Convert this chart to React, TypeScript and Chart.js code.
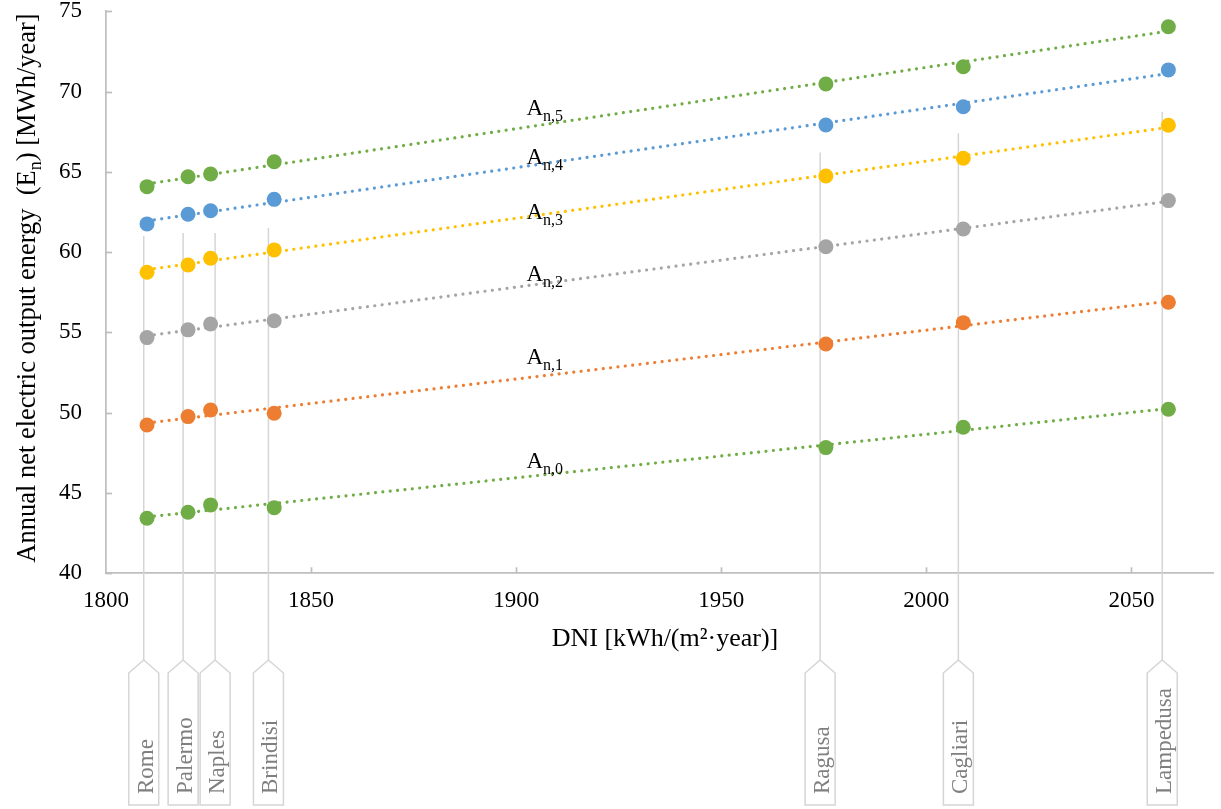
import { useEffect, useRef } from 'react';
import { Chart, registerables } from 'chart.js';

Chart.register(...registerables);

// Sites and their direct normal irradiance [kWh/(m²·year)]
const cities = ['Rome', 'Palermo', 'Naples', 'Brindisi', 'Ragusa', 'Cagliari', 'Lampedusa'];
const dni = [1810, 1820, 1825.5, 1841, 1975.5, 2009, 2059];

// Annual net electric output energy [MWh/year] per configuration
const an0 = [43.43, 43.8, 44.26, 44.09, 47.83, 49.1, 50.22];
const an1 = [49.24, 49.76, 50.17, 49.97, 54.28, 55.61, 56.88];
const an2 = [54.68, 55.16, 55.53, 55.73, 60.34, 61.44, 63.21];
const an3 = [58.75, 59.2, 59.62, 60.14, 64.74, 65.85, 67.9];
const an4 = [61.76, 62.36, 62.58, 63.29, 67.92, 69.06, 71.35];
const an5 = [64.08, 64.7, 64.87, 65.63, 70.47, 71.55, 74.04];

const seriesValues = [an0, an1, an2, an3, an4, an5];
const seriesSubscripts = ['n,0', 'n,1', 'n,2', 'n,3', 'n,4', 'n,5'];
const seriesColors = ['#70AD47', '#ED7D31', '#A5A5A5', '#FFC000', '#5B9BD5', '#70AD47'];

// Where each series name sits (DNI, energy)
const seriesLabelDni = 1902.5;
const seriesLabelValues = [47.02, 53.49, 58.64, 62.55, 65.95, 69.01];

// Site callouts: leader position (DNI) and the energy level where the leader ends
const calloutDni = [1809.2, 1818.8, 1826.6, 1839.6, 1974.1, 2007.8, 2057.5];
const calloutTop = [61.0, 61.2, 61.2, 61.5, 66.2, 67.4, 68.75];

const xMin = 1800;
const xMax = 2070;
const xStep = 50;
const yMin = 40;
const yMax = 75;
const yStep = 5;

const xTitle = 'DNI [kWh/(m²·year)]';
const yTitleParts = [
  { text: 'Annual net electric output energy  (E', sub: false },
  { text: 'n', sub: true },
  { text: ') [MWh/year]', sub: false },
];

const SERIF = '"Liberation Serif", "Times New Roman", serif';
const AXIS_GREY = '#BFBFBF';
const CALLOUT_GREY = '#D5D5D5';

function linearFit(xs: number[], ys: number[]) {
  const n = xs.length;
  const mx = xs.reduce((a, b) => a + b, 0) / n;
  const my = ys.reduce((a, b) => a + b, 0) / n;
  let sxy = 0;
  let sxx = 0;
  for (let i = 0; i < n; i++) {
    sxy += (xs[i] - mx) * (ys[i] - my);
    sxx += (xs[i] - mx) * (xs[i] - mx);
  }
  const b = sxy / sxx;
  const a = my - b * mx;
  return [xs[0], xs[n - 1]].map((x) => ({ x, y: a + b * x }));
}

type Part = { text: string; sub: boolean };

function drawRich(ctx: CanvasRenderingContext2D, parts: Part[], size: number, subSize: number, subDrop: number, centerX: number, baseline: number) {
  const widths = parts.map((p) => {
    ctx.font = `${p.sub ? subSize : size}px ${SERIF}`;
    return ctx.measureText(p.text).width;
  });
  const total = widths.reduce((a, b) => a + b, 0);
  let x = centerX - total / 2;
  ctx.textAlign = 'left';
  ctx.textBaseline = 'alphabetic';
  parts.forEach((p, i) => {
    ctx.font = `${p.sub ? subSize : size}px ${SERIF}`;
    ctx.fillText(p.text, x, baseline + (p.sub ? subDrop : 0));
    x += widths[i];
  });
}

const decorations = {
  id: 'decorations',
  beforeDatasetsDraw(chart: any) {
    const { ctx, scales } = chart;
    const xs = scales.x;
    const ys = scales.y;
    ctx.save();
    ctx.strokeStyle = CALLOUT_GREY;
    ctx.lineWidth = 1.5;
    calloutDni.forEach((d, i) => {
      const px = xs.getPixelForValue(d);
      ctx.beginPath();
      ctx.moveTo(px, ys.getPixelForValue(calloutTop[i]));
      ctx.lineTo(px, 660);
      ctx.stroke();
    });
    ctx.restore();
  },
  afterDraw(chart: any) {
    const { ctx, scales, chartArea } = chart;
    const xs = scales.x;
    const ys = scales.y;
    ctx.save();

    // inward tick marks
    ctx.strokeStyle = AXIS_GREY;
    ctx.lineWidth = 1.75;
    xs.ticks.forEach((t: any) => {
      if (t.value === xMin) return;
      const px = Math.round(xs.getPixelForValue(t.value)) + 0.5;
      ctx.beginPath();
      ctx.moveTo(px, chartArea.bottom);
      ctx.lineTo(px, chartArea.bottom - 6);
      ctx.stroke();
    });
    ys.ticks.forEach((t: any) => {
      const py = Math.round(ys.getPixelForValue(t.value)) + 0.5;
      ctx.beginPath();
      ctx.moveTo(chartArea.left, py);
      ctx.lineTo(chartArea.left + 6, py);
      ctx.stroke();
    });

    // site callouts
    calloutDni.forEach((d, i) => {
      const cx = xs.getPixelForValue(d);
      ctx.strokeStyle = CALLOUT_GREY;
      ctx.lineWidth = 1.5;
      ctx.fillStyle = '#ffffff';
      ctx.beginPath();
      ctx.moveTo(cx, 660);
      ctx.lineTo(cx + 15, 673);
      ctx.lineTo(cx + 15, 805);
      ctx.lineTo(cx - 15, 805);
      ctx.lineTo(cx - 15, 673);
      ctx.closePath();
      ctx.fill();
      ctx.stroke();

      ctx.save();
      ctx.translate(cx, 794);
      ctx.rotate(-Math.PI / 2);
      ctx.font = `23px ${SERIF}`;
      ctx.fillStyle = '#7F7F7F';
      ctx.textAlign = 'left';
      ctx.textBaseline = 'alphabetic';
      ctx.fillText(cities[i], 0, 9);
      ctx.restore();
    });

    // series names A_{n,k}
    ctx.fillStyle = '#000000';
    seriesSubscripts.forEach((s, i) => {
      const px = xs.getPixelForValue(seriesLabelDni);
      const py = ys.getPixelForValue(seriesLabelValues[i]) + 7.5;
      ctx.textAlign = 'left';
      ctx.textBaseline = 'alphabetic';
      ctx.font = `23px ${SERIF}`;
      ctx.fillText('A', px, py);
      const w = ctx.measureText('A').width;
      ctx.font = `16px ${SERIF}`;
      ctx.fillText(s, px + w, py + 6);
    });

    // axis titles
    ctx.fillStyle = '#000000';
    drawRich(ctx, [{ text: xTitle, sub: false }], 26, 18, 6, 665, 646);

    ctx.save();
    ctx.translate(35, 288);
    ctx.rotate(-Math.PI / 2);
    drawRich(ctx, yTitleParts, 26.5, 18, 6, 0, 0);
    ctx.restore();

    ctx.restore();
  },
};

export default function App() {
  const canvasRef = useRef<HTMLCanvasElement | null>(null);

  useEffect(() => {
    const canvas = canvasRef.current;
    if (!canvas) return;

    const datasets: any[] = [];
    seriesValues.forEach((vals, i) => {
      datasets.push({
        type: 'line',
        label: `A${seriesSubscripts[i]} trend`,
        data: linearFit(dni, vals),
        borderColor: seriesColors[i],
        borderWidth: 3.2,
        borderDash: [0.01, 7.4],
        borderCapStyle: 'round',
        pointRadius: 0,
        fill: false,
        tension: 0,
        order: 0,
      });
      datasets.push({
        type: 'scatter',
        label: `A${seriesSubscripts[i]}`,
        data: dni.map((x, j) => ({ x, y: vals[j] })),
        backgroundColor: seriesColors[i],
        borderColor: seriesColors[i],
        pointRadius: 7.5,
        pointHoverRadius: 7.5,
        pointBorderWidth: 0,
        order: 1,
      });
    });

    const chart = new Chart(canvas, {
      type: 'scatter',
      data: { datasets },
      options: {
        animation: false,
        responsive: false,
        maintainAspectRatio: false,
        events: [],
        layout: { padding: { top: 11.3, right: 1, bottom: 0, left: 0 } },
        plugins: {
          legend: { display: false },
          tooltip: { enabled: false },
        },
        scales: {
          x: {
            type: 'linear',
            min: xMin,
            max: xMax,
            afterFit: (scale: any) => {
              scale.height = 809 - 573.3;
              scale.paddingLeft = 0;
              scale.paddingRight = 0;
            },
            grid: { display: false, drawTicks: false },
            border: { display: true, color: AXIS_GREY, width: 1.75 },
            ticks: {
              stepSize: xStep,
              includeBounds: false,
              padding: 16,
              color: '#000000',
              font: { family: SERIF, size: 23, lineHeight: 1 },
              maxRotation: 0,
              callback: (v: any) => String(v),
            },
          },
          y: {
            type: 'linear',
            min: yMin,
            max: yMax,
            afterFit: (scale: any) => {
              scale.width = 106;
              scale.paddingTop = 0;
              scale.paddingBottom = 0;
            },
            grid: { display: false, drawTicks: false },
            border: { display: true, color: AXIS_GREY, width: 1.75 },
            ticks: {
              stepSize: yStep,
              padding: 24,
              color: '#000000',
              font: { family: SERIF, size: 23, lineHeight: 1 },
              callback: (v: any) => String(v),
            },
          },
        },
      },
      plugins: [decorations],
    } as any);

    return () => chart.destroy();
  }, []);

  return (
    <div style={{ position: 'absolute', left: 0, top: 0, width: 1221, height: 809, background: '#ffffff' }}>
      <canvas ref={canvasRef} width={1221} height={809} style={{ display: 'block' }} />
    </div>
  );
}
